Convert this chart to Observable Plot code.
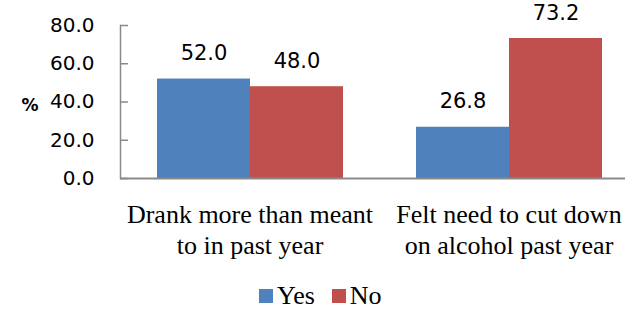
<!DOCTYPE html>
<html><head><meta charset="utf-8">
<script src="https://cdn.jsdelivr.net/npm/d3@7"></script>
<script src="https://cdn.jsdelivr.net/npm/@observablehq/plot@0.6"></script>
<style>
body{margin:0;background:#fff;}
#wrap{position:relative;width:625px;height:310px;overflow:hidden;background:#fff;}
#wrap svg{position:absolute;left:0;top:0;}
#legend{position:absolute;left:259px;top:281px;display:flex;align-items:center;font-family:"Liberation Serif","Times New Roman",serif;font-size:26px;line-height:30px;color:#000;}
.item{display:flex;align-items:center;margin-right:17px;}
.sw{display:inline-block;width:14px;height:14px;margin-right:4px;}
</style></head><body>
<div id="wrap"><div id="legend"></div></div>
<script>
const categories = ["Drank more than meant to in past year", "Felt need to cut down on alcohol past year"];
const tickLabels = ["Drank more than meant\nto in past year", "Felt need to cut down\non alcohol past year"];
const responses = ["Yes", "No"];
const colors = ["#4F81BD", "#C0504D"];
const yesValues = [52.0, 26.8];
const noValues = [48.0, 73.2];
const yTicks = [0, 20, 40, 60, 80];

const data = categories.flatMap((c, i) => [
  {category: c, response: "Yes", value: yesValues[i]},
  {category: c, response: "No", value: noValues[i]}
]);

const axisGray = "#8a8a8a";

const chart = Plot.plot({
  width: 625, height: 265,
  marginLeft: 120, marginRight: -13, marginTop: 25, marginBottom: 87,
  style: {background: "transparent", fontFamily: "DejaVu Sans", color: "#000"},
  fx: {domain: categories, padding: 0, label: null, axis: null},
  x: {domain: responses, paddingInner: 0, paddingOuter: 0.378, axis: null},
  y: {domain: [0, 80], axis: null},
  color: {domain: responses, range: colors},
  marks: [
    Plot.barY(data, {fx: "category", x: "response", y: "value", fill: "response"}),
    Plot.ruleY([0], {stroke: axisGray, strokeWidth: 2}),
    Plot.frame({anchor: "left", facetAnchor: "left", stroke: axisGray, strokeWidth: 1.5}),
    Plot.axisY(yTicks, {anchor: "left", tickSize: -8, tickPadding: 34, tickFormat: d => d.toFixed(1),
      fontSize: 20, fontFamily: "DejaVu Sans", stroke: axisGray, fill: "#000", strokeWidth: 1.5, label: null}),
    Plot.text(data, {fx: "category", x: "response", y: "value", text: d => d.value.toFixed(1),
      dy: -19, lineAnchor: "bottom", fontSize: 21, fontFamily: "DejaVu Sans", fill: "#000"}),
    Plot.axisFx({anchor: "bottom", tickSize: 0, tickPadding: 23,
      tickFormat: c => tickLabels[categories.indexOf(c)],
      fontSize: 26, fontFamily: "Liberation Serif", lineHeight: 1.18, fill: "#000", label: null}),
    Plot.text(["%"], {frameAnchor: "left", facetAnchor: "left", dx: -99, dy: 4, text: d => d,
      fontWeight: "bold", fontSize: 17, fontFamily: "DejaVu Sans", fill: "#000"})
  ]
});
document.getElementById("wrap").prepend(chart);

const legend = document.getElementById("legend");
responses.forEach((r, i) => {
  const item = document.createElement("div");
  item.className = "item";
  const sw = document.createElement("span");
  sw.className = "sw";
  sw.style.background = colors[i];
  const t = document.createElement("span");
  t.textContent = r;
  item.append(sw, t);
  legend.append(item);
});
</script>
</body></html>
